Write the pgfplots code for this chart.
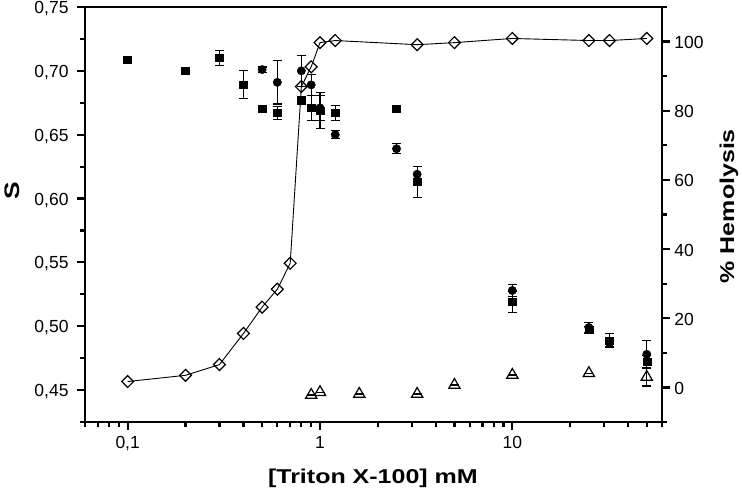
\documentclass[border=0pt]{standalone}
\usepackage{fontspec}
\setmainfont{Liberation Sans}
\usepackage{graphicx}
\usepackage{pgfplots}
\pgfplotsset{compat=1.18}
\usepackage{pgfplotstable}

\pgfplotsset{
  myframe/.style={
    width=577pt, height=415pt, scale only axis,
    at={(0,0)}, anchor=south west,
    xmin=0.06, xmax=60,
    axis line style={line width=2.7pt, black},
    tick align=outside, major tick length=8pt, minor tick length=5pt,
    every tick/.append style={line width=2.2pt, black},
    tick label style={font=\fontsize{17.5}{20}\selectfont},
    clip=false,
  }
}

% S, series 1 (squares)
\pgfplotstableread{
x y
0.1 0.709
0.2 0.700
0.3 0.710
0.4 0.689
0.5 0.670
0.6 0.667
0.8 0.677
0.9 0.671
1.0 0.669
1.2 0.667
2.5 0.670
3.2 0.613
10 0.519
25 0.497
32 0.489
50 0.472
}\sqdata
\pgfplotstableread{
x y e
0.3 0.710 0.006
0.4 0.689 0.011
0.6 0.667 0.005
0.9 0.671 0.010
1.0 0.669 0.014
1.2 0.667 0.006
3.2 0.613 0.012
10 0.519 0.008
25 0.497 0.003
32 0.489 0.005
50 0.472 0.005
}\sqerr
% S, series 2 (circles)
\pgfplotstableread{
x y
0.5 0.701
0.6 0.691
0.8 0.700
0.9 0.689
1.0 0.671
1.2 0.650
2.5 0.639
3.2 0.619
10 0.528
25 0.499
32 0.487
50 0.478
}\cidata
\pgfplotstableread{
x y e
0.5 0.701 0.002
0.6 0.691 0.017
0.8 0.700 0.012
0.9 0.689 0.008
1.0 0.671 0.010
1.2 0.650 0.003
2.5 0.639 0.004
3.2 0.619 0.006
10 0.528 0.005
25 0.499 0.004
32 0.487 0.004
50 0.478 0.011
}\cierr
% Hemolysis (diamonds)
\pgfplotstableread{
x y
0.1 1.7
0.2 3.5
0.3 6.6
0.4 15.6
0.5 23.2
0.6 28.4
0.7 35.9
0.8 87.0
0.9 92.7
1.0 99.7
1.2 100.3
3.2 99.1
5 99.7
10 100.9
25 100.3
32 100.3
50 100.9
}\hemo
% Hemolysis control (triangles)
\pgfplotstableread{
x y e
0.9 -2.2 0
1.0 -1.4 0
1.6 -1.9 0
3.2 -1.9 0
5 0.7 0
10 3.6 0
25 4.1 0
50 3.0 2.6
}\tri

\begin{document}
\begin{tikzpicture}
\path[use as bounding box] (-85pt,-70pt) rectangle (657pt,422pt);
\begin{semilogxaxis}[myframe,
  ymin=0.425, ymax=0.75,
  xtick pos=bottom, ytick pos=left,
  xtick={0.1,1,10}, xticklabels={{0,1},{1},{10}},
  minor xtick={0.06,0.07,0.08,0.09,0.2,0.3,0.4,0.5,0.6,0.7,0.8,0.9,2,3,4,5,6,7,8,9,20,30,40,50,60},
  ytick={0.45,0.50,0.55,0.60,0.65,0.70,0.75},
  yticklabels={{0,45},{0,50},{0,55},{0,60},{0,65},{0,70},{0,75}},
  minor ytick={0.425,0.475,0.525,0.575,0.625,0.675,0.725},
  xticklabel style={yshift=-3pt},
  yticklabel style={xshift=-5pt, yshift=-1.5pt},
  xlabel={\scalebox{1.25}[1]{[Triton X-100] mM}},
  every axis x label/.style={at={(axis description cs:0.499,-0.135)}, anchor=center,
    font=\fontsize{20}{24}\selectfont\bfseries},
  ylabel={\scalebox{1.25}[1]{S}},
  every axis y label/.style={at={(axis description cs:-0.1265,0.557)}, anchor=center, rotate=90,
    font=\fontsize{21}{24}\selectfont\bfseries},
]
\addplot[only marks, mark=none, error bars/.cd, y dir=both, y explicit,
  error bar style={black, line width=1.1pt},
  error mark options={rotate=90, mark size=4.5pt, line width=1.1pt, black}]
  table[x=x, y=y, y error=e] {\sqerr};
\addplot[only marks, mark=none, error bars/.cd, y dir=both, y explicit,
  error bar style={black, line width=1.1pt},
  error mark options={rotate=90, mark size=4.5pt, line width=1.1pt, black}]
  table[x=x, y=y, y error=e] {\cierr};
\addplot[only marks, mark=square*, mark size=4pt, mark options={black, fill=black, yscale=0.88}] table[x=x, y=y] {\sqdata};
\addplot[only marks, mark=*, mark size=4.2pt, mark options={black, fill=black}] table[x=x, y=y] {\cidata};
\end{semilogxaxis}
\begin{semilogxaxis}[myframe,
  ymin=-10, ymax=110,
  axis x line=none, axis y line*=right,
  ytick={0,20,40,60,80,100},
  yticklabels={0,20,40,60,80,100},
  minor ytick={-10,10,30,50,70,90,110},
  yticklabel style={xshift=1pt, yshift=-1pt},
  ylabel={\scalebox{1.25}[1]{\% Hemolysis}},
  every axis y label/.style={at={(axis description cs:1.116,0.52)}, anchor=center, rotate=90,
    font=\fontsize{20}{24}\selectfont\bfseries},
]
\addplot[black, line width=0.9pt, mark=square, mark size=4.2pt,
  mark options={rotate=45, fill=white, solid, line width=1.2pt}] table[x=x, y=y] {\hemo};
\addplot[only marks, mark=triangle, mark size=6.5pt,
  mark options={fill=white, black, line width=1.2pt},
  error bars/.cd, y dir=both, y explicit,
  error bar style={black, line width=1.1pt},
  error mark options={rotate=90, mark size=4.5pt, line width=1.1pt, black}]
  table[x=x, y=y, y error=e] {\tri};
\end{semilogxaxis}
\end{tikzpicture}
\end{document}
